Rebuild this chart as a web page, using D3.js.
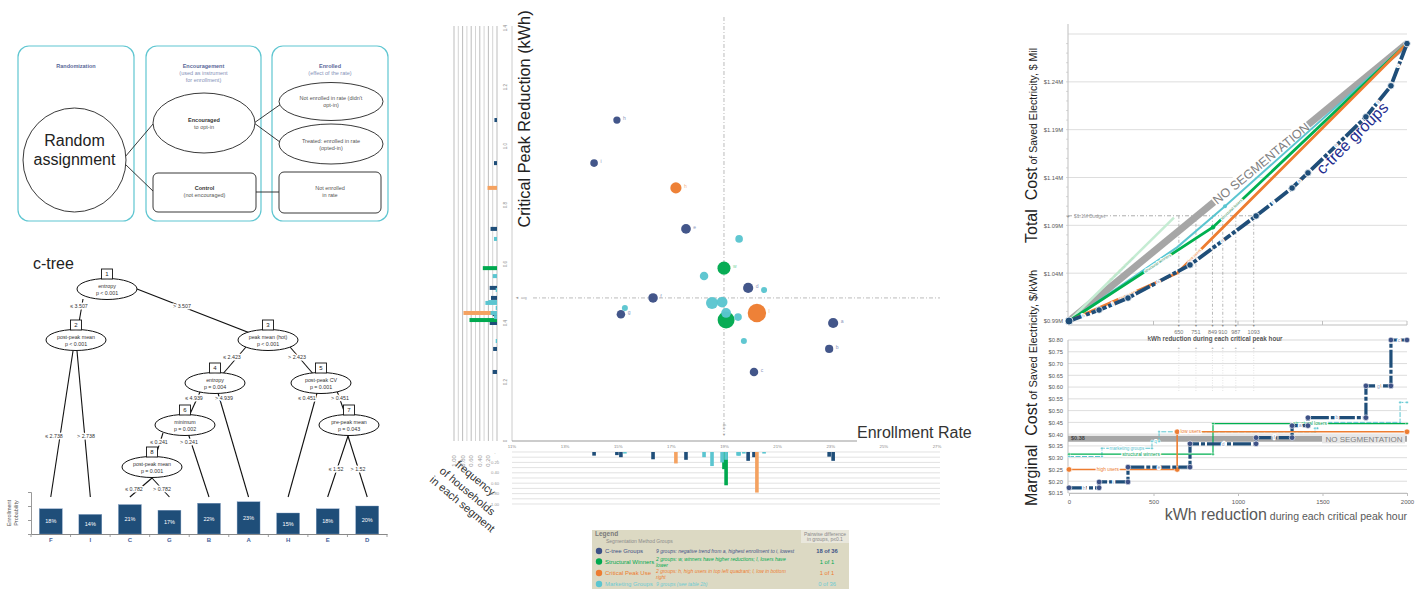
<!DOCTYPE html>
<html><head><meta charset="utf-8">
<script src="https://cdn.jsdelivr.net/npm/d3@7/dist/d3.min.js"></script>
<style>body{margin:0;background:#fff}svg{display:block}</style>
</head><body><svg width="1426" height="589"></svg>
<script>
/* ================= DATA ================= */
// c-tree leaves (enrollment probability)
const leafNames = ["F","I","C","G","B","A","H","E","D"];
const leafEnrollProb = [0.18,0.14,0.21,0.17,0.22,0.23,0.15,0.18,0.20];
const probTicks = [0,0.1,0.2,0.3];
// c-tree inner nodes
const treeNodeIds = [1,2,3,4,5,6,7,8];
const treeNodeVars = ["entropy","post-peak mean","peak mean (hot)","entropy","post-peak CV","minimum","pre-peak mean","post-peak mean"];
const treeNodeP = ["p < 0.001","p < 0.001","p < 0.001","p = 0.004","p = 0.001","p = 0.002","p = 0.043","p = 0.001"];
const treeEdges = [[1,2],[1,3],[2,"F"],[2,"I"],[3,4],[3,5],[4,6],[4,"A"],[5,"H"],[5,7],[6,8],[6,"B"],[7,"E"],[7,"D"],[8,"C"],[8,"G"]];
const treeSplitLabels = ["≤ 3.507","> 3.507","≤ 2.738","> 2.738","≤ 2.423","> 2.423","≤ 4.939","> 4.939","≤ 0.451","> 0.451","≤ 0.241","> 0.241","≤ 1.52","> 1.52","≤ 0.782","> 0.782"];

// scatter: enrollment rate (%), critical peak reduction (kWh), share of households
const ctreeLabels = ["a","b","c","d","e","f","g","h","i"];
const ctreeRate = [23.09,22.94,20.11,19.89,17.55,16.31,15.10,14.95,14.09];
const ctreeReduction = [0.40,0.312,0.234,0.519,0.719,0.485,0.43,1.088,0.942];
const ctreeFreq = [0.17,0.09,0.10,0.17,0.15,0.14,0.10,0.06,0.07];
const structLabels = ["w","l"];
const structRate = [18.98,19.06];
const structReduction = [0.586,0.41];
const structFreq = [0.33,0.64];
const peakLabels = ["h","l"];
const peakRate = [17.17,20.22];
const peakReduction = [0.858,0.434];
const peakFreq = [0.22,0.78];
const marketRate = [19.55,15.25,18.23,18.53,18.91,19.06,19.51,20.49,19.73];
const marketReduction = [0.685,0.451,0.559,0.468,0.471,0.434,0.42,0.512,0.339];
const marketFreq = [0.07,0.03,0.10,0.27,0.20,0.15,0.07,0.03,0.03];
const avgRate = 18.98, avgReduction = 0.485;
const rateTicks = [11,13,15,17,19,21,23,25,27];

// legend
const legendNames = ["C-tree Groups","Structural Winners","Critical Peak Use","Marketing Groups"];
const legendDesc = [["9 groups: negative trend from a, highest enrollment to i, lowest"],
  ["2 groups: w, winners have higher reductions; l, losers have","lower"],
  ["2 groups: h, high users in top left quadrant; l, low in bottom","right"],
  ["9 groups (see table 2b)"]];
const legendPairwise = ["18 of 36","1 of 1","1 of 1","0 of 36"];

// total cost curves: [kWh, $M]
const noSegTotal = [[0,0.99],[2000,1.28]];
const losersOnlyTotal = [[0,0.99],[621,1.098]];
const marketingTotal = [[0,0.99],[639,1.067],[923,1.110],[2000,1.28]];
const structuralTotal = [[0,0.99],[852,1.088],[2000,1.28]];
const peakTotal = [[0,0.99],[640,1.040],[2000,1.28]];
const ctreeTotal = [[0,0.99],[178,1.0015],[349,1.014],[716,1.0486],[1107,1.0998],[1320,1.129],[1414,1.1448],[1757,1.2034],[1905,1.2358],[2000,1.28]];
const ctreeOrder = ["h","i","e","d","f","a","b","g","c"];
const budget = 1.1;
const budgetKwh = [650,751,849,910,987,1093];
const totalTicks = [0.99,1.04,1.09,1.14,1.19,1.24];
const totalGrid = [0.99,1.04,1.09,1.14,1.19,1.24,1.29];

// marginal cost steps: [from kWh, to kWh, $/kWh]
const ctreeSteps = [[0,178,0.172],[178,349,0.197],[349,716,0.26],[716,1107,0.359],[1107,1320,0.385],[1320,1414,0.436],[1414,1757,0.47],[1757,1905,0.605],[1905,2000,0.80]];
const peakSteps = [[0,640,0.25],[640,2000,0.41]];
const peakStepNames = ["high users","low users"];
const structSteps = [[0,852,0.315],[852,2000,0.445]];
const structStepNames = ["structural winners","structural losers"];
const marketSteps = [[0,195,0.305],[195,491,0.34],[491,533,0.37],[533,1456,0.41],[1456,1470,0.425],[1470,1959,0.45],[1959,2000,0.535]];
const noSegMarginal = 0.38;
const marginalTicks = [0.15,0.20,0.25,0.30,0.35,0.40,0.45,0.50,0.55,0.60,0.65,0.70,0.75,0.80];
const kwhTicks = [0,500,1000,1500,2000];

/* ================= LAYOUT ================= */
const nodePos = {1:[107,289],2:[76,340],3:[268,340],4:[215,383],5:[321,383],6:[185,425],7:[349,425],8:[152,467]};
const edgeStart = [[-24,10],[30,0],[-3,11],[1,11],[-22,7],[22,7],[-15,9],[3,10],[-4,10],[16,8],[-22,8],[3,8],[-1,11],[-1,11],[0,11],[0,11]];
const splitPos = [[79,306],[182,306],[54,436],[86,436],[232,357],[297,357],[194,398],[224,398],[307,398],[340,398],[159,442],[189,442],[336,469],[358,469],[134,489],[162,489]];

const COL = {navy:"#1f4e79", slate:"#3d5186", green:"#00b050", orange:"#ed7d31", cyan:"#5bc5d0", gray:"#a6a6a6", teal:"#5fc6d1"};

const svg = d3.select("svg").attr("font-family",'"Liberation Sans", Arial, Helvetica, sans-serif');
svg.append("rect").attr("width",1426).attr("height",589).attr("fill","#fff");
function T(g,x,y,s,o={}){
  const t=g.append("text").attr("x",x).attr("y",y).text(s)
   .attr("font-size",o.fs||6).attr("fill",o.c||"#333").attr("text-anchor",o.a||"start");
  if(o.w) t.attr("font-weight",o.w);
  if(o.i) t.attr("font-style","italic");
  if(o.r!=null) t.attr("transform",`rotate(${o.r},${x},${y})`);
  if(o.halo) t.attr("stroke","#fff").attr("stroke-width",o.halo).attr("paint-order","stroke").attr("stroke-linejoin","round");
  return t;
}

/* ================= PANEL A: flow ================= */
const A = svg.append("g");
const flowCols = [
 {x:18,w:116,title:["Randomization"]},
 {x:146,w:115,title:["Encouragement","(used as instrument","for enrollment)"]},
 {x:272,w:116,title:["Enrolled","(effect of the rate)"]}];
flowCols.forEach(c=>{
  A.append("rect").attr("x",c.x).attr("y",46).attr("width",c.w).attr("height",175).attr("rx",11)
   .attr("fill","none").attr("stroke",COL.teal).attr("stroke-width",1.2);
  c.title.forEach((t,i)=>T(A,c.x+c.w/2,67.5+i*7,t,{fs:5.5,a:"middle",c:i?"#8592b8":"#5a6898",w:i?null:"bold"}));
});
[[125,157,153,124],[125,164,154,192],[254,123,281,104],[254,123,284,145],[256,192,279,192]].forEach(l=>
  A.append("line").attr("x1",l[0]).attr("y1",l[1]).attr("x2",l[2]).attr("y2",l[3]).attr("stroke","#222").attr("stroke-width",0.9));
const sh = {fill:"#fff",stroke:"#222"};
A.append("ellipse").attr("cx",74.5).attr("cy",160).attr("rx",51.5).attr("ry",52).attr("fill",sh.fill).attr("stroke",sh.stroke).attr("stroke-width",0.9);
T(A,74.5,146,"Random",{fs:16,a:"middle",c:"#222"});
T(A,74.5,165,"assignment",{fs:16,a:"middle",c:"#222"});
A.append("ellipse").attr("cx",204).attr("cy",123).attr("rx",51).attr("ry",30).attr("fill",sh.fill).attr("stroke",sh.stroke).attr("stroke-width",0.9);
T(A,204,122,"Encouraged",{fs:5.5,a:"middle",w:"bold",c:"#333"});
T(A,204,129,"to opt-in",{fs:5.5,a:"middle",c:"#555"});
A.append("rect").attr("x",153).attr("y",173).attr("width",103).attr("height",39).attr("rx",5).attr("fill",sh.fill).attr("stroke",sh.stroke).attr("stroke-width",0.9);
T(A,204.5,190,"Control",{fs:5.5,a:"middle",w:"bold",c:"#333"});
T(A,204.5,197,"(not encouraged)",{fs:5.5,a:"middle",c:"#555"});
A.append("ellipse").attr("cx",331).attr("cy",101.5).attr("rx",52).attr("ry",19).attr("fill",sh.fill).attr("stroke",sh.stroke).attr("stroke-width",0.9);
T(A,331,100,"Not enrolled in rate (didn't",{fs:5.5,a:"middle",c:"#555"});
T(A,331,107,"opt-in)",{fs:5.5,a:"middle",c:"#555"});
A.append("ellipse").attr("cx",331).attr("cy",144).attr("rx",52).attr("ry",20).attr("fill",sh.fill).attr("stroke",sh.stroke).attr("stroke-width",0.9);
T(A,331,142.5,"Treated: enrolled in rate",{fs:5.5,a:"middle",c:"#555"});
T(A,331,149.5,"(opted-in)",{fs:5.5,a:"middle",c:"#555"});
A.append("rect").attr("x",279).attr("y",172).attr("width",102).attr("height",41).attr("rx",5).attr("fill",sh.fill).attr("stroke",sh.stroke).attr("stroke-width",0.9);
T(A,330,190,"Not enrolled",{fs:5.5,a:"middle",c:"#555"});
T(A,330,197,"in rate",{fs:5.5,a:"middle",c:"#555"});

/* ================= PANEL B: c-tree ================= */
const B = svg.append("g");
T(B,33,269,"c-tree",{fs:16,c:"#222"});
const bx = d3.scaleBand().domain(leafNames).range([31,387]).paddingInner(0.42).paddingOuter(0.21);
const by = d3.scaleLinear().domain([0,0.3]).range([534,492]);
const leafX = n => bx(n)+bx.bandwidth()/2;
treeEdges.forEach((e,i)=>{
  const p=nodePos[e[0]], s=edgeStart[i];
  let tx,ty;
  if(typeof e[1]==="number"){[tx,ty]=nodePos[e[1]];} else {tx=leafX(e[1]); ty=497;}
  B.append("line").attr("x1",p[0]+s[0]).attr("y1",p[1]+s[1]).attr("x2",tx).attr("y2",ty)
   .attr("stroke","#111").attr("stroke-width",1.1);
});
B.selectAll("rect.bar").data(leafNames).join("rect").attr("class","bar")
  .attr("x",d=>bx(d)).attr("y",(d,i)=>by(leafEnrollProb[i])).attr("width",bx.bandwidth())
  .attr("height",(d,i)=>by(0)-by(leafEnrollProb[i])).attr("fill",COL.navy).attr("stroke","#7f9cc0").attr("stroke-width",0.4);
B.selectAll("text.pct").data(leafNames).join("text").attr("class","pct")
  .attr("x",d=>leafX(d)).attr("y",(d,i)=>(by(leafEnrollProb[i])+by(0))/2+2)
  .attr("text-anchor","middle").attr("font-size",5.5).attr("fill","#fff")
  .text((d,i)=>d3.format(".0%")(leafEnrollProb[i]));
const bax = B.append("g").attr("transform",`translate(0,${by(0)})`).call(d3.axisBottom(bx).tickSize(0).tickPadding(4));
bax.select(".domain").attr("stroke","#888");
bax.selectAll("text").attr("font-size",6).attr("font-weight","bold").attr("fill","#4a5f9a").attr("font-family",null);
d3.range(leafNames.length+1).forEach(k=>{
  const x=bx.range()[0]+k*bx.step();
  B.append("line").attr("x1",x).attr("x2",x).attr("y1",by(0)).attr("y2",by(0)+3).attr("stroke","#888").attr("stroke-width",0.8);
});
const bay = B.append("g").attr("transform","translate(31,0)").call(d3.axisLeft(by).tickValues(probTicks).tickSize(3).tickFormat(""));
bay.selectAll("path,line").attr("stroke","#999");
T(B,11,513,"Enrollment",{fs:5.5,a:"middle",c:"#555",r:-90});
T(B,18,513,"Probability",{fs:5.5,a:"middle",c:"#555",r:-90});
treeNodeIds.forEach((id,i)=>{
  const [x,y]=nodePos[id];
  B.append("ellipse").attr("cx",x).attr("cy",y).attr("rx",30).attr("ry",10.5).attr("fill","#fff").attr("stroke","#111").attr("stroke-width",1);
  T(B,x,y-1,treeNodeVars[i],{fs:5.3,a:"middle",c:"#333"});
  T(B,x,y+6,treeNodeP[i],{fs:5.3,a:"middle",c:"#333"});
  B.append("rect").attr("x",x-5.5).attr("y",y-20).attr("width",11).attr("height",10).attr("fill","#fff").attr("stroke","#111").attr("stroke-width",0.9);
  T(B,x,y-12.8,String(id),{fs:6,a:"middle",c:"#222"});
});
treeSplitLabels.forEach((s,i)=>T(B,splitPos[i][0],splitPos[i][1]+2,s,{fs:5.3,a:"middle",c:"#333",halo:3}));

/* ================= PANEL C: scatter ================= */
const S = svg.append("g");
const sx = d3.scaleLinear().domain([11,27]).range([512,937]);
const sy = d3.scaleLinear().domain([0,1.4]).range([441,28]);
const fL = d3.scaleLinear().domain([0,1]).range([497,454]);
const fB = d3.scaleLinear().domain([0,1]).range([452,504]);
const rS = d3.scaleSqrt().domain([0,0.8]).range([1.5,9.3]);
// left frequency grid
fL.ticks(10).forEach((t,i)=>S.append("line").attr("x1",fL(t)).attr("x2",fL(t)).attr("y1",26).attr("y2",441)
   .attr("stroke",i%2?"#cfcfcf":"#b5b5b5").attr("stroke-width",0.9));
fL.ticks(5).forEach(t=>T(S,fL(t)+2,461,t===0?"-":d3.format(".2f")(t),{fs:6,a:"middle",c:"#999",r:-90}));
// bottom frequency grid
fB.ticks(10).forEach(t=>S.append("line").attr("x1",512).attr("x2",940).attr("y1",fB(t)).attr("y2",fB(t)).attr("stroke","#d6d6d6").attr("stroke-width",0.7));
fB.ticks(5).forEach(t=>T(S,495,fB(t)+1.5,t===0?"-":d3.format(".2f")(t),{fs:4.2,a:"middle",c:"#999"}));
// axes
S.append("line").attr("x1",512).attr("x2",512).attr("y1",26).attr("y2",441).attr("stroke","#ccc");
S.append("line").attr("x1",512).attr("x2",857).attr("y1",441).attr("y2",441).attr("stroke","#999");
sy.ticks(7).forEach(t=>T(S,507,sy(t),t===0?"0":d3.format(".1f")(t),{fs:4.5,a:"middle",c:"#888",r:-90}));
rateTicks.forEach(t=>T(S,sx(t),448,t+"%",{fs:4.3,a:"middle",c:"#888"}));
// avg lines
S.append("line").attr("x1",sx(avgRate)).attr("x2",sx(avgRate)).attr("y1",17).attr("y2",432)
  .attr("stroke","#aaa").attr("stroke-width",0.8).attr("stroke-dasharray","4,2,1,2");
S.append("line").attr("x1",533).attr("x2",940).attr("y1",sy(avgReduction)).attr("y2",sy(avgReduction))
  .attr("stroke","#aaa").attr("stroke-width",0.8).attr("stroke-dasharray","4,2,1,2");
T(S,521,sy(avgReduction)+1,"avg",{fs:3.5,c:"#999"});
T(S,515,sy(avgReduction)+1.5,"◄",{fs:4,c:"#999"});
T(S,sx(avgRate)+1,427,"avg",{fs:3.5,a:"middle",c:"#999",r:-90});
T(S,sx(avgRate),436,"▼",{fs:4,a:"middle",c:"#999"});
// groups
const groups = [
 {rate:ctreeRate,red:ctreeReduction,freq:ctreeFreq,labels:ctreeLabels,fill:COL.slate,bar:COL.navy,lab:"#8b97bd"},
 {rate:peakRate,red:peakReduction,freq:peakFreq,labels:peakLabels,fill:COL.orange,bar:"#f4a261",lab:"#f3b58a"},
 {rate:structRate,red:structReduction,freq:structFreq,labels:structLabels,fill:"#00a94f",bar:"#00a94f",lab:"#7fd6a5"},
 {rate:marketRate,red:marketReduction,freq:marketFreq,labels:null,fill:COL.cyan,bar:COL.cyan,lab:"#9edde4"}];
groups.forEach(g=>{
  const idx=d3.range(g.rate.length);
  S.append("g").selectAll("rect").data(idx).join("rect")
   .attr("x",i=>fL(g.freq[i])).attr("y",i=>sy(g.red[i])-2).attr("width",i=>fL(0)-fL(g.freq[i])).attr("height",4).attr("fill",g.bar);
  S.append("g").selectAll("rect").data(idx).join("rect")
   .attr("x",i=>sx(g.rate[i])-1.8).attr("y",fB(0)).attr("width",3.6).attr("height",i=>fB(g.freq[i])-fB(0)).attr("fill",g.bar);
});
groups.forEach(g=>{
  const idx=d3.range(g.rate.length);
  S.append("g").selectAll("circle").data(idx).join("circle")
   .attr("cx",i=>sx(g.rate[i])).attr("cy",i=>sy(g.red[i])).attr("r",i=>rS(g.freq[i])).attr("fill",g.fill).attr("fill-opacity",0.97);
  if(g.labels) S.append("g").selectAll("text").data(idx).join("text")
   .attr("x",i=>sx(g.rate[i])+rS(g.freq[i])+2.5).attr("y",i=>sy(g.red[i])).attr("font-size",5).attr("fill",g.lab).text(i=>g.labels[i]);
});
T(S,530,119,"Critical Peak Reduction (kWh)",{fs:16.3,a:"middle",c:"#222",r:-90});
T(S,857,438,"Enrollment Rate",{fs:16,c:"#333"});
T(S,473,481,"frequency",{fs:11,a:"middle",c:"#333",r:40});
T(S,465,494,"of households",{fs:11,a:"middle",c:"#333",r:40});
T(S,460,507,"in each segment",{fs:11,a:"middle",c:"#333",r:40});

/* legend */
const L = svg.append("g");
L.append("rect").attr("x",592).attr("y",530).attr("width",257).attr("height",59).attr("fill","#dcd9c3");
L.append("rect").attr("x",801).attr("y",530).attr("width",48).attr("height",13).attr("fill","#e9e7dc");
T(L,595,536,"Legend",{fs:6.5,w:"bold",c:"#7a7a7a"});
T(L,606,542.5,"Segmentation Method Groups",{fs:5,c:"#8a8a8a"});
T(L,825,535.5,"Pairwise difference",{fs:5,a:"middle",c:"#8a8a8a"});
T(L,825,541,"in groups, p≤0.1",{fs:5,a:"middle",c:"#8a8a8a"});
const legCol = [COL.slate,"#00a94f",COL.orange,COL.cyan];
const legTxt = ["#3d5186","#00a94f","#ed7d31","#6ccbd4"];
const legY = [551,561.5,573,584];
legendNames.forEach((n,i)=>{
  L.append("circle").attr("cx",599).attr("cy",legY[i]).attr("r",3.2).attr("fill",legCol[i]);
  T(L,605,legY[i]+2,n,{fs:6,c:legTxt[i]});
  legendDesc[i].forEach((d,j)=>T(L,656,legY[i]+(legendDesc[i].length>1?-0.5:1.7)+j*6,d,{fs:5,i:true,c:legTxt[i]}));
  T(L,827,legY[i]+2,legendPairwise[i],{fs:5.8,a:"middle",c:legTxt[i],w:i===0?"bold":null});
});

/* ================= PANEL D: cost curves ================= */
const D = svg.append("g");
const mx = d3.scaleLinear().domain([0,2000]).range([1069,1407]);
const ty = d3.scaleLinear().domain([0.99,1.29]).range([321,34]);
const my = d3.scaleLinear().domain([0.15,0.80]).range([493,340]);
// top grid & axis
totalGrid.forEach(v=>D.append("line").attr("x1",1068).attr("x2",1407).attr("y1",ty(v)).attr("y2",ty(v)).attr("stroke","#d9d9d9").attr("stroke-width",0.9));
D.append("line").attr("x1",1068).attr("x2",1068).attr("y1",24).attr("y2",325).attr("stroke","#bfbfbf");
d3.range(0,30).forEach(k=>{const v=0.99+k*0.01;D.append("line").attr("x1",1066).attr("x2",1068).attr("y1",ty(v)).attr("y2",ty(v)).attr("stroke","#bfbfbf").attr("stroke-width",0.6);});
const tya = D.append("g").attr("transform","translate(1068,0)").call(d3.axisLeft(ty).tickValues(totalTicks).tickSize(0).tickPadding(5).tickFormat(d=>"$"+d3.format(".2f")(d)+"M"));
tya.select(".domain").remove();
tya.selectAll("text").attr("font-size",5.8).attr("fill","#595959").attr("font-family",null);
D.append("line").attr("x1",1068).attr("x2",1407).attr("y1",325).attr("y2",325).attr("stroke","#bfbfbf");
kwhTicks.forEach(k=>D.append("line").attr("x1",mx(k)).attr("x2",mx(k)).attr("y1",321).attr("y2",325).attr("stroke","#bfbfbf"));
// budget line & drops
D.append("line").attr("x1",1068).attr("x2",mx(d3.max(budgetKwh))).attr("y1",ty(budget)).attr("y2",ty(budget))
 .attr("stroke","#999").attr("stroke-width",0.8).attr("stroke-dasharray","4,2,1,2");
T(D,1068,ty(budget)+2,"+",{fs:6,a:"middle",c:"#888"});
T(D,1074,ty(budget)+2,"$1.1M Budget",{fs:5,c:"#999"});
budgetKwh.forEach(k=>{
  D.append("line").attr("x1",mx(k)).attr("x2",mx(k)).attr("y1",ty(budget)).attr("y2",325)
   .attr("stroke","#999").attr("stroke-width",0.7).attr("stroke-dasharray","3,2,1,2");
  T(D,mx(k),327,"▼",{fs:3.5,a:"middle",c:"#888"});
  T(D,mx(k),334,String(k),{fs:5.5,a:"middle",c:"#777"});
});
const line = d3.line().x(d=>mx(d[0])).y(d=>ty(d[1]));
function onSeg(g,a,b,t,s,o){
  const x0=mx(a[0]),y0=ty(a[1]),x1=mx(b[0]),y1=ty(b[1]);
  const ang=Math.atan2(y1-y0,x1-x0)*180/Math.PI;
  return T(g,x0+(x1-x0)*t,y0+(y1-y0)*t+1.5,s,Object.assign({a:"middle",r:ang},o));
}
D.append("path").attr("d",line(noSegTotal)).attr("fill","none").attr("stroke",COL.gray).attr("stroke-width",7);
{ // NO SEGMENTATION label on the line
  const p0=[mx(noSegTotal[0][0]),ty(noSegTotal[0][1])],p1=[mx(noSegTotal[1][0]),ty(noSegTotal[1][1])];
  const ang=Math.atan2(p1[1]-p0[1],p1[0]-p0[0])*180/Math.PI, t=0.568;
  const g=D.append("g").attr("transform",`translate(${p0[0]+(p1[0]-p0[0])*t},${p0[1]+(p1[1]-p0[1])*t}) rotate(${ang})`);
  g.append("rect").attr("x",-61).attr("y",-7).attr("width",122).attr("height",14).attr("fill","#fff");
  g.append("text").attr("text-anchor","middle").attr("dy","0.36em").attr("font-size",12.5).attr("fill","#808080").text("NO SEGMENTATION");
}
D.append("path").attr("d",line(losersOnlyTotal)).attr("fill","none").attr("stroke","#c5ecd3").attr("stroke-width",2.5);
onSeg(D,losersOnlyTotal[0],losersOnlyTotal[1],0.5,"only structural losers",{fs:4,c:"#b5e3c4"});
D.append("path").attr("d",line(marketingTotal)).attr("fill","none").attr("stroke",COL.cyan).attr("stroke-width",2);
D.append("circle").attr("cx",mx(marketingTotal[2][0])).attr("cy",ty(marketingTotal[2][1])).attr("r",2).attr("fill",COL.cyan);
D.append("path").attr("d",line(structuralTotal)).attr("fill","none").attr("stroke",COL.green).attr("stroke-width",2.8);
D.append("circle").attr("cx",mx(structuralTotal[1][0])).attr("cy",ty(structuralTotal[1][1])).attr("r",2.2).attr("fill",COL.green);
onSeg(D,structuralTotal[0],structuralTotal[1],0.62,"structural winners",{fs:4,c:"#2e8b57",halo:2});
onSeg(D,structuralTotal[1],structuralTotal[2],0.1,"structural losers",{fs:4,c:"#2e8b57",halo:2});
D.append("path").attr("d",line(peakTotal)).attr("fill","none").attr("stroke",COL.orange).attr("stroke-width",2.8);
onSeg(D,peakTotal[0],peakTotal[1],0.55,"high users",{fs:4,c:COL.orange,halo:2});
onSeg(D,peakTotal[1],peakTotal[2],0.08,"low users",{fs:4,c:COL.orange,halo:2});
D.append("path").attr("d",line(ctreeTotal)).attr("fill","none").attr("stroke",COL.navy).attr("stroke-width",3.8).attr("stroke-dasharray","16,2,4,2");
ctreeTotal.slice(0,-1).forEach((p,i)=>onSeg(D,p,ctreeTotal[i+1],0.5,ctreeOrder[i],{fs:4.5,c:"#8fa0c0",halo:2.5}));
D.selectAll("circle.ct").data(ctreeTotal).join("circle").attr("class","ct")
 .attr("cx",d=>mx(d[0])).attr("cy",d=>ty(d[1])).attr("r",(d,i)=>i===0?4:3.3).attr("fill",COL.navy).attr("stroke","#fff").attr("stroke-width",0.8);
T(D,1356,142,"c-tree groups",{fs:16,a:"middle",c:"#1f2d8f",r:-45});

// header between charts
T(D,1215,341,"kWh reduction during each critical peak hour",{fs:6.3,a:"middle",w:"bold",c:"#555",halo:4});

// marginal grid & axes
marginalTicks.forEach(v=>{ if(v!==0.80) D.append("line").attr("x1",1068).attr("x2",1407).attr("y1",my(v)).attr("y2",my(v)).attr("stroke","#d9d9d9").attr("stroke-width",0.9);});
D.append("line").attr("x1",1068).attr("x2",1150).attr("y1",my(0.8)).attr("y2",my(0.8)).attr("stroke","#d9d9d9");
D.append("line").attr("x1",1281).attr("x2",1407).attr("y1",my(0.8)).attr("y2",my(0.8)).attr("stroke","#d9d9d9");
D.append("line").attr("x1",1068).attr("x2",1068).attr("y1",340).attr("y2",493).attr("stroke","#bfbfbf");
const mya = D.append("g").attr("transform","translate(1068,0)").call(d3.axisLeft(my).tickValues(marginalTicks).tickSize(0).tickPadding(5).tickFormat(d=>"$"+d3.format(".2f")(d)));
mya.select(".domain").remove();
mya.selectAll("text").attr("font-size",5.8).attr("fill","#595959").attr("font-family",null);
const mxa = D.append("g").attr("transform","translate(0,493)").call(d3.axisBottom(mx).tickValues(kwhTicks).tickSize(3).tickPadding(4).tickFormat(d3.format("d")));
mxa.selectAll("path,line").attr("stroke","#bfbfbf");
mxa.selectAll("text").attr("font-size",6).attr("fill","#595959").attr("font-family",null);
budgetKwh.forEach(k=>{
  T(D,mx(k),349,"▲",{fs:3.5,a:"middle",c:"#bbb"});
  D.append("line").attr("x1",mx(k)).attr("x2",mx(k)).attr("y1",350).attr("y2",392).attr("stroke","#ddd").attr("stroke-width",0.8).attr("stroke-dasharray","1,1.5");
});
// no segmentation band
D.append("line").attr("x1",1068).attr("x2",1407).attr("y1",my(noSegMarginal)).attr("y2",my(noSegMarginal)).attr("stroke",COL.gray).attr("stroke-width",6);
T(D,1071,my(noSegMarginal)+1.5,"$"+d3.format(".2f")(noSegMarginal),{fs:5.5,w:"bold",c:"#444"});
D.append("rect").attr("x",1322).attr("y",my(noSegMarginal)-3.5).attr("width",83).attr("height",8).attr("fill","#e6e6e6");
T(D,1364,my(noSegMarginal)+3,"NO SEGMENTATION",{fs:8,a:"middle",c:"#808080"});
const stepLine = d3.line().x(d=>mx(d[0])).y(d=>my(d[1])).curve(d3.curveStepAfter);
function stepPts(steps){ const p=steps.map(s=>[s[0],s[2]]); const l=steps[steps.length-1]; p.push([l[1],l[2]]); return p; }
function stepDots(steps,col,r){
  steps.forEach(s=>{[s[0],s[1]].forEach(x=>D.append("circle").attr("cx",mx(x)).attr("cy",my(s[2])).attr("r",r).attr("fill",col).attr("stroke","#fff").attr("stroke-width",0.6));});
}
// marketing
D.append("path").attr("d",stepLine(stepPts(marketSteps))).attr("fill","none").attr("stroke",COL.cyan).attr("stroke-width",1).attr("stroke-dasharray","5,1.5");
stepDots(marketSteps,COL.cyan,1.3);
T(D,mx((marketSteps[1][0]+marketSteps[1][1])/2),my(marketSteps[1][2])+1.5,"marketing groups",{fs:4.5,a:"middle",c:COL.cyan,halo:2});
T(D,mx((marketSteps[2][0]+marketSteps[2][1])/2),my(marketSteps[2][2])+1.5,"q",{fs:4.5,a:"middle",c:COL.cyan,halo:2});
// structural
D.append("path").attr("d",stepLine(stepPts(structSteps))).attr("fill","none").attr("stroke","#00b050").attr("stroke-width",1.2);
stepDots(structSteps,COL.green,1.3);
structSteps.forEach((s,i)=>T(D,mx((s[0]+s[1])/2),my(s[2])+1.5,structStepNames[i],{fs:4.8,a:"middle",c:"#00a050",halo:2.5}));
// peak
D.append("path").attr("d",stepLine(stepPts(peakSteps))).attr("fill","none").attr("stroke",COL.orange).attr("stroke-width",1.6);
stepDots(peakSteps,COL.orange,2.8);
T(D,mx(peakSteps[0][0]+(peakSteps[0][1]-peakSteps[0][0])*0.36),my(peakSteps[0][2])+1.5,peakStepNames[0],{fs:4.8,a:"middle",c:COL.orange,halo:2.5});
T(D,mx(peakSteps[1][0]+80),my(peakSteps[1][2])+1.5,peakStepNames[1],{fs:4.8,a:"middle",c:COL.orange,halo:2.5});
// c-tree
D.append("path").attr("d",stepLine(stepPts(ctreeSteps))).attr("fill","none").attr("stroke",COL.navy).attr("stroke-width",3.2).attr("stroke-dasharray","18,2,4,2");
ctreeSteps.forEach((s,i)=>T(D,mx((s[0]+s[1])/2),my(s[2])+1.8,ctreeOrder[i],{fs:5,a:"middle",c:"#8fa0c0",halo:2.5}));
stepDots(ctreeSteps,"#3d5186",2.8);
// axis titles
const yl1 = D.append("text").attr("transform","translate(1037,243) rotate(-90)").attr("fill","#222");
yl1.append("tspan").attr("font-size",16).text("Total\u00a0\u00a0Cost");
yl1.append("tspan").attr("font-size",10.5).text(" of Saved Electricity, $ Mil");
const yl2 = D.append("text").attr("transform","translate(1037,506) rotate(-90)").attr("fill","#222");
yl2.append("tspan").attr("font-size",16).text("Marginal\u00a0\u00a0Cost");
yl2.append("tspan").attr("font-size",11).text(" of Saved Electricity, $/kWh");
const xl = D.append("text").attr("x",1407).attr("y",520).attr("text-anchor","end").attr("fill","#595959");
xl.append("tspan").attr("font-size",16).text("kWh reduction");
xl.append("tspan").attr("font-size",10.5).text(" during each critical peak hour");
</script></body></html>
